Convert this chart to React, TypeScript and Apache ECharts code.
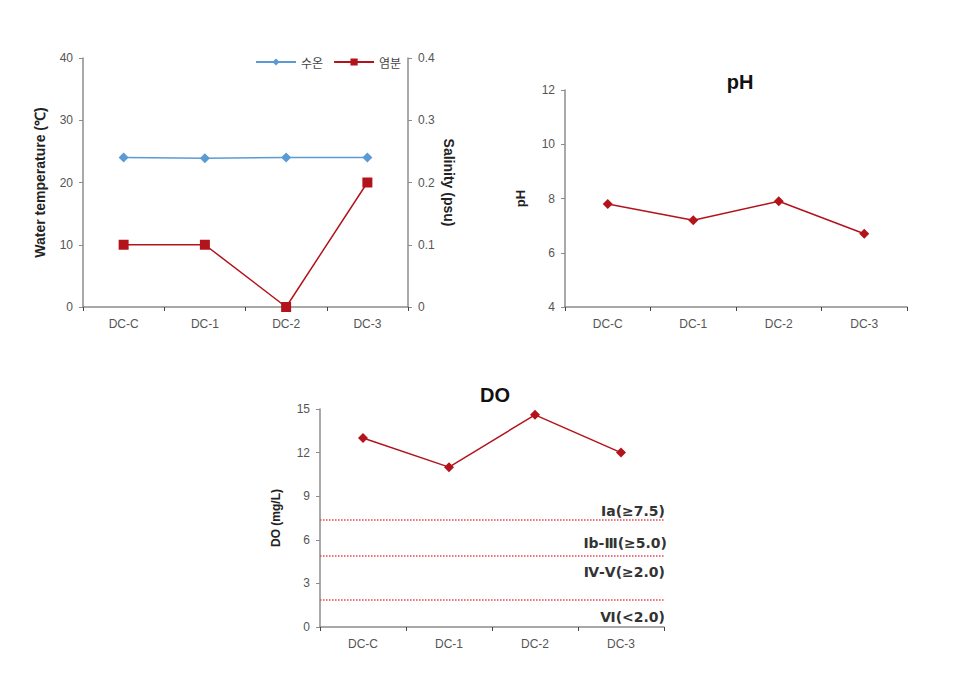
import React, { useEffect, useRef } from "react";
import * as echarts from "echarts";

const categories = ["DC-C", "DC-1", "DC-2", "DC-3"];
const waterTemp = [24.0, 23.9, 24.0, 24.0];
const salinity = [0.1, 0.1, 0.0, 0.2];
const phValues = [7.8, 7.2, 7.9, 6.7];
const doValues = [13.0, 11.0, 14.6, 12.0];
const doStandards = [7.4, 4.9, 1.9];
const doLabels = ["Ⅰa(≥7.5)", "Ⅰb-Ⅲ(≥5.0)", "Ⅳ-Ⅴ(≥2.0)", "Ⅵ(<2.0)"];

const FONT = "Liberation Sans, Arial, sans-serif";
const AXIS_COLOR = "#8c8c8c";
const LABEL_COLOR = "#555";
const RED = "#b3141b";
const BLUE = "#5b9bd5";

function catAxis(gridIndex: number) {
  return {
    type: "category",
    gridIndex,
    data: categories,
    boundaryGap: true,
    axisLine: { lineStyle: { color: AXIS_COLOR, width: 1.5 } },
    axisTick: { show: true, length: 4, lineStyle: { color: "#444" } },
    axisLabel: { color: LABEL_COLOR, fontSize: 12, fontFamily: FONT, margin: 11 },
  };
}

function valAxis(gridIndex: number, min: number, max: number, interval: number, name: string, nameGap: number, nameSize: number, extra: any = {}) {
  return {
    type: "value",
    gridIndex,
    min,
    max,
    interval,
    name,
    nameLocation: "middle",
    nameGap,
    nameRotate: 90,
    nameTextStyle: { color: "#222", fontSize: nameSize, fontWeight: "bold", fontFamily: FONT },
    axisLine: { show: true, lineStyle: { color: AXIS_COLOR, width: 1.5 } },
    axisTick: { show: true, length: 4, lineStyle: { color: AXIS_COLOR } },
    axisLabel: { color: LABEL_COLOR, fontSize: 12, fontFamily: FONT, margin: 10 },
    splitLine: { show: false },
    ...extra,
  };
}

export default function App() {
  const ref = useRef<HTMLDivElement>(null);
  useEffect(() => {
    if (!ref.current) return;
    const chart = echarts.init(ref.current, null, { renderer: "svg" });
    const labelText = (text: string, x: number, y: number) => ({
      type: "text",
      x,
      y,
      style: { text, fill: "#333", font: `bold 14px "DejaVu Sans", sans-serif`, textAlign: "right", textVerticalAlign: "middle" },
    });
    chart.setOption({
      animation: false,
      backgroundColor: "#ffffff",
      textStyle: { fontFamily: FONT },
      title: [
        { text: "pH", left: 735, top: 67, textAlign: "center", textStyle: { fontSize: 20, fontWeight: "bold", color: "#111", fontFamily: FONT } },
        { text: "DO", left: 490, top: 380, textAlign: "center", textStyle: { fontSize: 20, fontWeight: "bold", color: "#111", fontFamily: FONT } },
      ],
      legend: {
        left: 250,
        top: 51,
        itemWidth: 40,
        itemHeight: 9,
        itemGap: 10,
        textStyle: { fontSize: 12, color: "#444", fontFamily: "Noto Sans CJK KR" },
        data: ["수온", "염분"],
      },
      grid: [
        { left: 83, top: 58, width: 325, height: 249 },
        { left: 565, top: 90, width: 342, height: 217 },
        { left: 320, top: 409, width: 344, height: 218 },
      ],
      xAxis: [catAxis(0), catAxis(1), catAxis(2)],
      yAxis: [
        valAxis(0, 0, 40, 10, "Water temperature (℃)", 36, 14),
        valAxis(0, 0, 0.4, 0.1, "Salinity (psu)", 34, 14, { position: "right", nameRotate: -90, axisLabel: { color: LABEL_COLOR, fontSize: 12, fontFamily: FONT, margin: 10, formatter: (v: number) => (v === 0 ? "0" : v.toFixed(1)) } }),
        valAxis(1, 4, 12, 2, "pH", 38, 13),
        valAxis(2, 0, 15, 3, "DO (mg/L)", 38, 12),
      ],
      series: [
        {
          name: "수온",
          type: "line",
          xAxisIndex: 0,
          yAxisIndex: 0,
          data: waterTemp,
          symbol: "diamond",
          symbolSize: 10,
          itemStyle: { color: BLUE },
          lineStyle: { color: BLUE, width: 1.5 },
        },
        {
          name: "염분",
          type: "line",
          xAxisIndex: 0,
          yAxisIndex: 1,
          data: salinity,
          symbol: "rect",
          symbolSize: 10,
          itemStyle: { color: RED },
          lineStyle: { color: RED, width: 1.5 },
        },
        {
          name: "pH",
          type: "line",
          xAxisIndex: 1,
          yAxisIndex: 2,
          data: phValues,
          symbol: "diamond",
          symbolSize: 10,
          itemStyle: { color: RED },
          lineStyle: { color: RED, width: 1.5 },
        },
        {
          name: "DO",
          type: "line",
          xAxisIndex: 2,
          yAxisIndex: 3,
          data: doValues,
          symbol: "diamond",
          symbolSize: 10,
          itemStyle: { color: RED },
          lineStyle: { color: RED, width: 1.5 },
          markLine: {
            silent: true,
            symbol: "none",
            label: { show: false },
            lineStyle: { color: "#e8474c", type: "dotted", width: 1.5 },
            data: doStandards.map((v) => ({ yAxis: v })),
          },
        },
      ],
      graphic: [
        labelText(doLabels[0], 665, 511),
        labelText(doLabels[1], 667, 543),
        labelText(doLabels[2], 665, 572),
        labelText(doLabels[3], 665, 617),
      ],
    });
    return () => chart.dispose();
  }, []);
  return <div ref={ref} style={{ position: "fixed", left: 0, top: 0, width: 955, height: 673 }} />;
}
